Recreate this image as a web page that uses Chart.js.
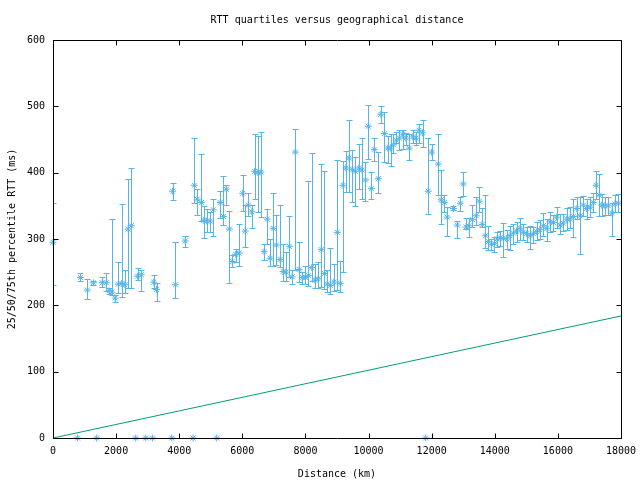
<!DOCTYPE html>
<html>
<head>
<meta charset="utf-8">
<title>RTT quartiles versus geographical distance</title>
<script src="https://cdn.jsdelivr.net/npm/chart.js@4.4.1/dist/chart.umd.min.js"></script>
<style>
  html, body { margin: 0; padding: 0; background: #fff; }
  canvas { display: block; }
</style>
</head>
<body>
<canvas id="chart" width="640" height="480"></canvas>
<script>
// distance bins (km) with 25th / 50th / 75th percentile RTT (ms)
const distance = [
    0, 780, 870, 1090, 1280, 1385, 1560, 1690, 1780, 1870,
    1970, 2070, 2180, 2280, 2380, 2480, 2620, 2680, 2800, 2940,
    3150, 3190, 3280, 3765, 3790, 3880, 4190, 4437, 4480, 4570,
    4700, 4780, 4870, 4980, 5080, 5190, 5300, 5400, 5490, 5590,
    5680, 5790, 5900, 6010, 6090, 6190, 6300, 6390, 6490, 6590,
    6690, 6790, 6880, 6980, 7080, 7200, 7290, 7380, 7490, 7580,
    7680, 7800, 7900, 8000, 8090, 8200, 8300, 8400, 8500, 8600,
    8690, 8790, 8900, 9010, 9100, 9190, 9280, 9380, 9480, 9580,
    9690, 9790, 9900, 9990, 10090, 10180, 10310, 10390, 10500, 10610,
    10700, 10790, 10880, 10980, 11080, 11180, 11290, 11400, 11500, 11600,
    11710, 11810, 11890, 12000, 12210, 12300, 12400, 12490, 12690, 12810,
    12910, 13000, 13090, 13180, 13290, 13410, 13510, 13600, 13700, 13800,
    13890, 13990, 14070, 14170, 14270, 14380, 14480, 14590, 14690, 14800,
    14900, 15010, 15120, 15220, 15330, 15430, 15540, 15650, 15750, 15860,
    15960, 16070, 16170, 16280, 16380, 16490, 16600, 16700, 16810, 16910,
    17020, 17120, 17210, 17310, 17390, 17490, 17600, 17710, 17810, 17920
];
const rttMedian = [
    295, 0, 242, 223, 234, 0, 234, 234, 222, 220,
    211, 232, 233, 231, 315, 320, 0, 244, 246, 0,
    0, 235, 224, 0, 372, 231, 297, 0, 381, 360,
    355, 328, 327, 327, 344, 0, 355, 334, 375, 315,
    266, 277, 279, 369, 312, 351, 341, 402, 400, 401,
    281, 330, 271, 316, 291, 269, 251, 250, 289, 243,
    431, 254, 242, 242, 245, 257, 238, 240, 284, 248,
    232, 230, 235, 310, 233, 381, 407, 422, 405, 402,
    407, 404, 389, 470, 376, 435, 391, 488, 459, 437,
    437, 442, 449, 452, 458, 452, 437, 454, 452, 464,
    460, 0, 372, 431, 413, 359, 355, 333, 346, 321,
    354, 383, 318, 320, 329, 335, 357, 322, 305, 296,
    292, 293, 300, 302, 301, 300, 305, 309, 312, 316,
    310, 308, 305, 308, 311, 314, 320, 316, 326, 325,
    333, 321, 324, 330, 330, 334, 346, 335, 351, 346,
    348, 355, 381, 366, 351, 350, 350, 339, 353, 354
];
const rttLow = [
    230, 0, 237, 210, 230, 0, 228, 222, 217, 216,
    205, 218, 213, 218, 226, 226, 0, 238, 222, 0,
    0, 226, 206, 0, 359, 211, 288, 0, 355, 336,
    327, 301, 310, 310, 305, 0, 331, 321, 352, 233,
    258, 266, 259, 342, 288, 334, 316, 361, 341, 333,
    268, 293, 259, 259, 261, 258, 236, 236, 243, 232,
    253, 235, 232, 232, 229, 236, 226, 226, 228, 224,
    220, 217, 222, 223, 220, 251, 371, 371, 356, 349,
    375, 360, 357, 420, 360, 417, 369, 475, 416, 415,
    410, 430, 444, 434, 436, 442, 419, 444, 442, 444,
    438, 0, 338, 419, 367, 322, 340, 305, 343, 302,
    342, 365, 315, 303, 318, 321, 341, 318, 286, 283,
    283, 281, 288, 290, 273, 285, 284, 292, 295, 298,
    298, 296, 285, 294, 298, 300, 304, 297, 310, 312,
    316, 308, 312, 314, 316, 303, 330, 278, 334, 330,
    333, 340, 360, 335, 335, 336, 336, 305, 340, 340
];
const rttHigh = [
    355, 0, 248, 239, 237, 0, 242, 248, 226, 330,
    216, 266, 353, 254, 390, 407, 0, 256, 254, 0,
    0, 245, 233, 0, 384, 296, 305, 0, 453, 376,
    428, 350, 345, 340, 360, 0, 372, 395, 381, 342,
    276, 285, 322, 396, 351, 370, 351, 459, 456, 461,
    293, 345, 300, 369, 336, 351, 293, 280, 335, 253,
    466, 296, 251, 260, 387, 429, 263, 266, 413, 402,
    253, 287, 263, 419, 267, 417, 432, 480, 434, 424,
    443, 452, 416, 502, 401, 453, 431, 500, 491, 455,
    458, 458, 462, 465, 464, 460, 459, 464, 462, 473,
    480, 0, 452, 443, 458, 404, 367, 348, 350, 327,
    364, 401, 331, 331, 352, 363, 379, 346, 367, 319,
    300, 303, 310, 312, 324, 314, 320, 322, 325, 331,
    322, 318, 320, 318, 326, 328, 339, 330, 340, 336,
    348, 337, 338, 346, 348, 360, 363, 363, 365, 361,
    364, 370, 403, 398, 368, 364, 364, 354, 366, 368
];

// speed-of-light-in-fibre reference line
const fibreDistance = [0, 18000];
const fibreRtt = [0, 184];

const xTickValues = [0, 2000, 4000, 6000, 8000, 10000, 12000, 14000, 16000, 18000];
const yTickValues = [0, 100, 200, 300, 400, 500, 600];

const blue = '#56b4e9';
const green = '#009e73';

Chart.defaults.font.family = "'DejaVu Sans Mono', 'Liberation Mono', monospace";
Chart.defaults.font.size = 10;
Chart.defaults.color = '#000';

// quartile bars drawn through the scales
const errorBars = {
    id: 'errorBars',
    beforeDatasetsDraw(chart) {
        const { ctx, chartArea: a, scales: { x, y } } = chart;
        ctx.save();
        ctx.beginPath();
        ctx.rect(a.left + 1, a.top, a.right - a.left - 1, a.bottom - a.top);
        ctx.clip();
        ctx.strokeStyle = blue;
        ctx.lineWidth = 1;
        ctx.beginPath();
        distance.forEach((d, i) => {
            if (rttLow[i] === rttHigh[i]) return;
            const px = Math.round(x.getPixelForValue(d)) + 0.5;
            const top = Math.round(y.getPixelForValue(rttHigh[i])) + 0.5;
            const bot = Math.round(y.getPixelForValue(rttLow[i])) + 0.5;
            ctx.moveTo(px, top); ctx.lineTo(px, bot);
            ctx.moveTo(px - 3, top); ctx.lineTo(px + 3, top);
            ctx.moveTo(px - 3, bot); ctx.lineTo(px + 3, bot);
        });
        ctx.stroke();
        ctx.restore();
    }
};

// gnuplot style box with inward ticks on all sides
const frame = {
    id: 'frame',
    afterDraw(chart) {
        const { ctx, chartArea: a, scales: { x, y } } = chart;
        const L = Math.round(a.left) + 0.5, R = Math.round(a.right) + 0.5;
        const T = Math.round(a.top) + 0.5, B = Math.round(a.bottom) + 0.5;
        ctx.save();
        ctx.strokeStyle = '#000';
        ctx.lineWidth = 1;
        ctx.beginPath();
        ctx.rect(L, T, R - L, B - T);
        xTickValues.forEach(v => {
            const p = Math.round(x.getPixelForValue(v)) + 0.5;
            ctx.moveTo(p, B); ctx.lineTo(p, B - 5);
            ctx.moveTo(p, T); ctx.lineTo(p, T + 5);
        });
        yTickValues.forEach(v => {
            const p = Math.round(y.getPixelForValue(v)) + 0.5;
            ctx.moveTo(L, p); ctx.lineTo(L + 5, p);
            ctx.moveTo(R, p); ctx.lineTo(R - 5, p);
        });
        ctx.stroke();
        ctx.restore();
    }
};

new Chart(document.getElementById('chart'), {
    type: 'scatter',
    data: {
        datasets: [{
            data: distance.map((d, i) => ({ x: d, y: rttMedian[i] })),
            pointStyle: 'star',
            pointRadius: 3.5,
            borderColor: blue,
            backgroundColor: blue,
            borderWidth: 1,
            clip: false
        }, {
            data: fibreDistance.map((d, i) => ({ x: d, y: fibreRtt[i] })),
            showLine: true,
            pointRadius: 0,
            borderColor: green,
            borderWidth: 1
        }]
    },
    options: {
        responsive: false,
        animation: false,
        events: [],
        layout: { padding: { left: 0, right: 19, top: 0, bottom: 0 } },
        plugins: {
            legend: { display: false },
            tooltip: { enabled: false },
            title: {
                display: true,
                text: 'RTT quartiles versus geographical distance',
                fullSize: false,
                font: { weight: 'normal', size: 10 },
                padding: { top: 14, bottom: 14 }
            }
        },
        scales: {
            x: {
                type: 'linear',
                min: 0,
                max: 18000,
                afterBuildTicks: s => { s.ticks = xTickValues.map(v => ({ value: v })); },
                afterFit: s => { s.height = 42; s.paddingLeft = 0; s.paddingRight = 0; },
                ticks: { padding: 7, maxRotation: 0, autoSkip: false, callback: v => String(v) },
                grid: { display: false, drawTicks: false },
                border: { display: false },
                title: { display: true, text: 'Distance (km)', padding: { top: 4, bottom: 0 } }
            },
            y: {
                type: 'linear',
                min: 0,
                max: 600,
                afterBuildTicks: s => { s.ticks = yTickValues.map(v => ({ value: v })); },
                afterFit: s => { s.width = 53; s.paddingTop = 0; s.paddingBottom = 0; },
                ticks: { padding: 8, autoSkip: false, callback: v => String(v) },
                grid: { display: false, drawTicks: false },
                border: { display: false },
                title: { display: true, text: '25/50/75th percentile RTT (ms)', padding: { top: 6, bottom: 0 } }
            }
        }
    },
    plugins: [errorBars, frame]
});
</script>
</body>
</html>
